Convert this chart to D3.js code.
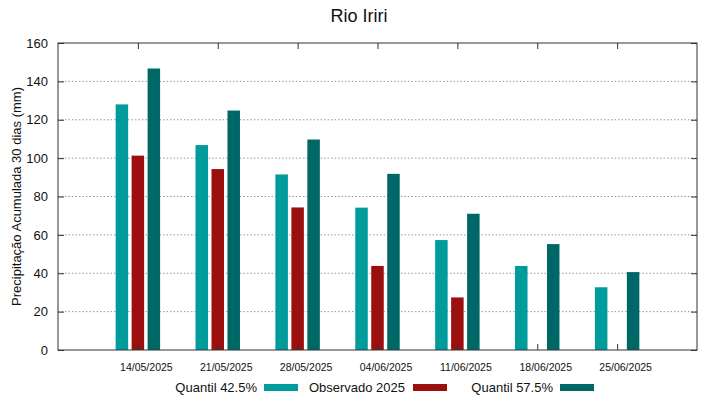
<!DOCTYPE html>
<html>
<head>
<meta charset="utf-8">
<script src="https://cdn.jsdelivr.net/npm/d3@7"></script>
<style>
  body { margin: 0; background: #fff; }
  text { font-family: "Liberation Sans", Arial, sans-serif; fill: #111; }
</style>
</head>
<body>
<script>
const dates = ['14/05/2025', '21/05/2025', '28/05/2025', '04/06/2025', '11/06/2025', '18/06/2025', '25/06/2025'];
const quantil425 = [128, 106.8, 91.5, 74.2, 57.3, 43.8, 32.7];
const observado = [101.3, 94.3, 74.3, 43.8, 27.4, null, null];
const quantil575 = [146.7, 124.8, 109.7, 91.8, 71, 55.2, 40.6];
const yTicks = [0, 20, 40, 60, 80, 100, 120, 140, 160];

const series = [
  { name: 'Quantil 42.5%', values: quantil425, color: '#009b9b', offset: -1 },
  { name: 'Observado 2025', values: observado, color: '#9b0f0f', offset: 0 },
  { name: 'Quantil 57.5%', values: quantil575, color: '#006767', offset: 1 }
];

const width = 719, height = 399;
const plotLeft = 58, plotRight = 697, plotTop = 43, plotBottom = 350;

const svg = d3.select('body').append('svg')
  .attr('width', width)
  .attr('height', height);

// gnuplot-like xrange [-1:7]
const x = d3.scaleLinear().domain([-1, 7]).range([plotLeft, plotRight]);
const y = d3.scaleLinear().domain([0, 160]).range([plotBottom, plotTop]);
const unit = x(1) - x(0);
const barW = 12.5;

// grid
svg.append('g').selectAll('line')
  .data(yTicks.filter(d => d > 0 && d < 160))
  .enter().append('line')
  .attr('x1', plotLeft).attr('x2', plotRight)
  .attr('y1', d => y(d)).attr('y2', d => y(d))
  .attr('stroke', '#999').attr('stroke-width', 1)
  .attr('stroke-dasharray', '1.5,2');

// bars
series.forEach(s => {
  svg.append('g').selectAll('rect')
    .data(s.values.map((v, i) => ({ v, i })).filter(d => d.v != null))
    .enter().append('rect')
    .attr('x', d => x(d.i) + s.offset * unit * 0.2 - barW / 2)
    .attr('y', d => y(d.v))
    .attr('width', barW)
    .attr('height', d => y(0) - y(d.v))
    .attr('fill', s.color);
});

// frame
svg.append('rect')
  .attr('x', plotLeft).attr('y', plotTop)
  .attr('width', plotRight - plotLeft).attr('height', plotBottom - plotTop)
  .attr('fill', 'none').attr('stroke', '#333').attr('stroke-width', 1);

// y axis
const yAxis = d3.axisLeft(y).tickValues(yTicks).tickSize(-6).tickPadding(10);
const gy = svg.append('g').attr('transform', `translate(${plotLeft},0)`).call(yAxis);
gy.select('.domain').remove();
gy.selectAll('line').attr('stroke', '#333');
gy.selectAll('text').attr('font-size', 13).attr('fill', '#111')
  .style('font-family', '"Liberation Sans", Arial, sans-serif');

const yAxisR = d3.axisRight(y).tickValues(yTicks).tickSize(-6).tickFormat('');
const gyr = svg.append('g').attr('transform', `translate(${plotRight},0)`).call(yAxisR);
gyr.select('.domain').remove();
gyr.selectAll('line').attr('stroke', '#333');

// x axis
const catIdx = dates.map((d, i) => i);
const xAxis = d3.axisBottom(x).tickValues(catIdx).tickSize(-6)
  .tickFormat(i => dates[i]).tickPadding(14);
const gx = svg.append('g').attr('transform', `translate(0,${plotBottom})`).call(xAxis);
gx.select('.domain').remove();
gx.selectAll('line').attr('stroke', '#333');
gx.selectAll('text').attr('font-size', 10.5).attr('fill', '#111').attr('dx', 8)
  .style('font-family', '"Liberation Sans", Arial, sans-serif');

const xAxisT = d3.axisTop(x).tickValues(catIdx).tickSize(-6).tickFormat('');
const gxt = svg.append('g').attr('transform', `translate(0,${plotTop})`).call(xAxisT);
gxt.select('.domain').remove();
gxt.selectAll('line').attr('stroke', '#333');

// title
svg.append('text')
  .attr('x', 359).attr('y', 22)
  .attr('text-anchor', 'middle')
  .attr('font-size', 18)
  .text('Rio Iriri');

// y label
svg.append('text')
  .attr('transform', `translate(21,${(plotTop + plotBottom) / 2}) rotate(-90)`)
  .attr('text-anchor', 'middle')
  .attr('font-size', 13)
  .text('Precipitação Acumulada 30 dias (mm)');

// legend
const legendPos = [
  { textEnd: 257, sw: 264 },
  { textEnd: 405, sw: 413 },
  { textEnd: 553, sw: 560 }
];
const legend = svg.append('g').selectAll('g')
  .data(series)
  .enter().append('g');
legend.append('text')
  .attr('x', (d, i) => legendPos[i].textEnd)
  .attr('y', 392)
  .attr('text-anchor', 'end')
  .attr('font-size', 13)
  .text(d => d.name);
legend.append('rect')
  .attr('x', (d, i) => legendPos[i].sw)
  .attr('y', 384)
  .attr('width', 34)
  .attr('height', 7)
  .attr('fill', d => d.color);
</script>
</body>
</html>
